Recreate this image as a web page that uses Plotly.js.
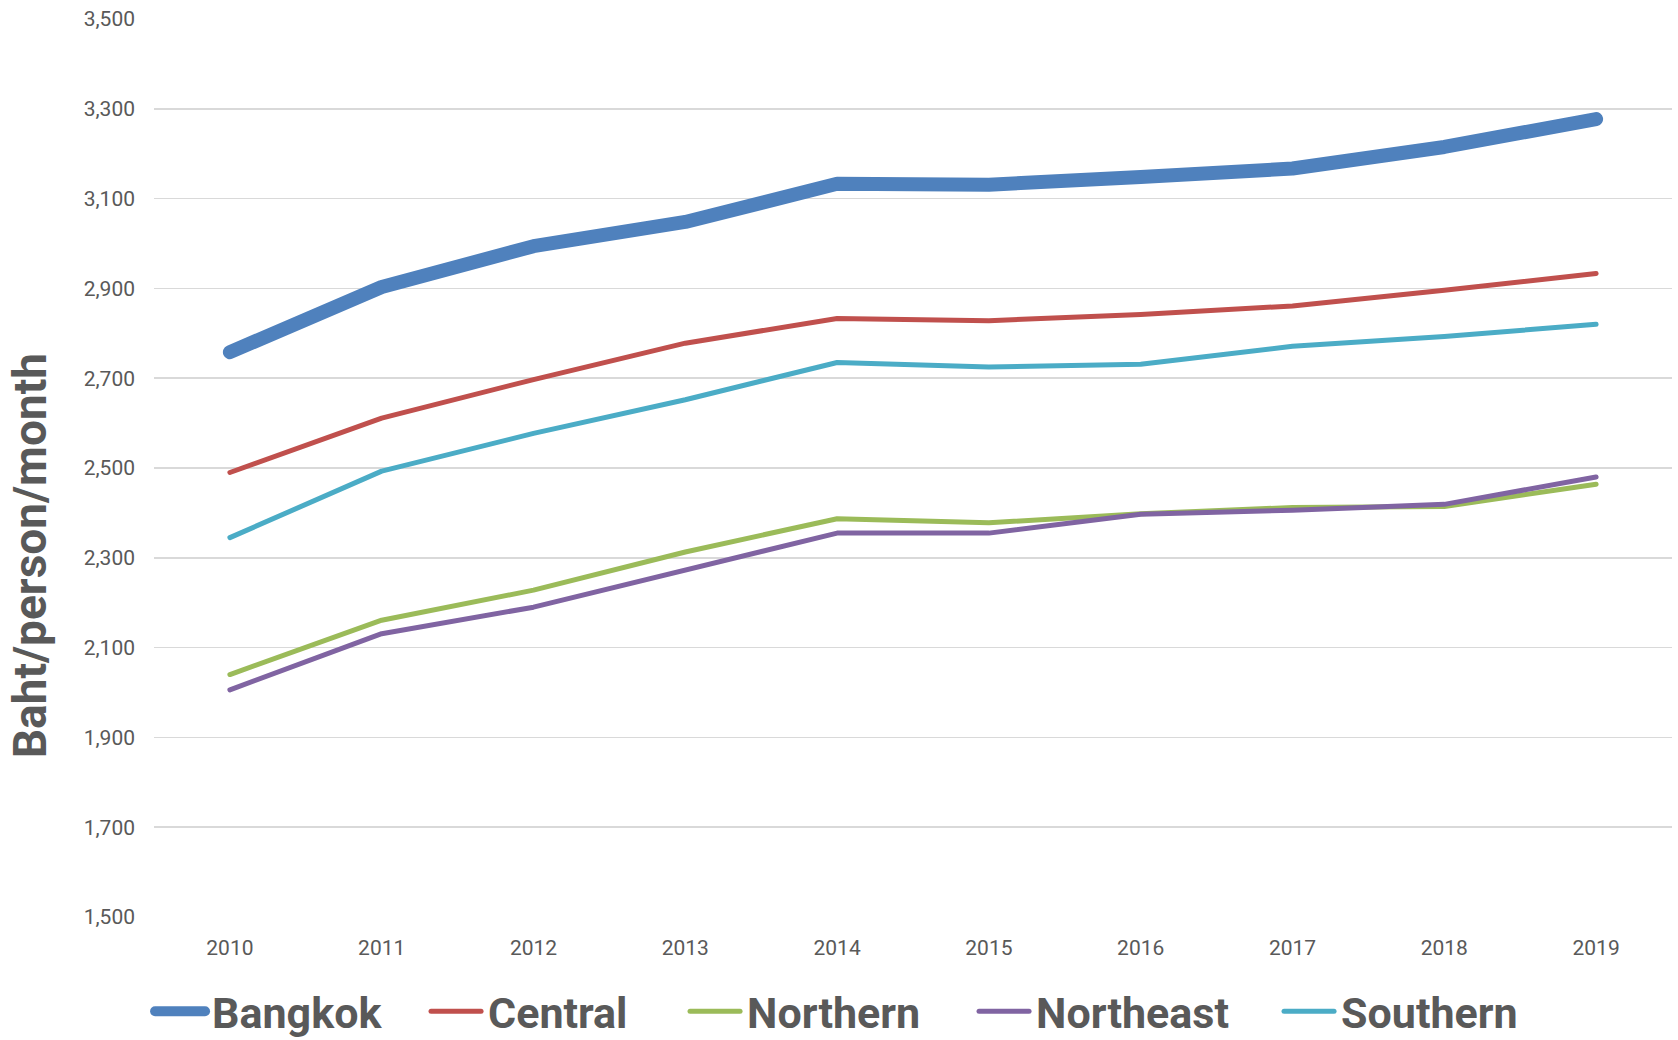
<!DOCTYPE html>
<html>
<head>
<meta charset="utf-8">
<script src="https://cdn.plot.ly/plotly-3.0.1.min.js"></script>
<style>
  html, body { margin: 0; padding: 0; background: #ffffff; }
  #chart { width: 1678px; height: 1040px; }
  .scatterlayer path.js-line, .legend path.js-line { stroke-linecap: round !important; stroke-linejoin: round !important; }
</style>
</head>
<body>
<div id="chart"></div>
<script>
// ---- data ----
const years = ['2010','2011','2012','2013','2014','2015','2016','2017','2018','2019'];
const seriesNames = ['Bangkok','Central','Northern','Northeast','Southern'];
const bangkok   = [2758, 2903, 2994, 3048, 3133, 3131, 3148, 3167, 3215, 3277];
const central   = [2490, 2611, 2697, 2778, 2833, 2828, 2842, 2861, 2896, 2933];
const northern  = [2040, 2161, 2228, 2313, 2387, 2378, 2398, 2412, 2414, 2464];
const northeast = [2006, 2131, 2190, 2272, 2355, 2355, 2397, 2406, 2419, 2480];
const southern  = [2345, 2493, 2577, 2652, 2735, 2725, 2731, 2771, 2793, 2820];
const yTitle = 'Baht/person/month';

// ---- styles ----
const seriesValues = [bangkok, central, northern, northeast, southern];
const colors = ['#4F81BD', '#C0504D', '#9BBB59', '#8064A2', '#4BACC6'];
const widths = [14, 5, 5, 5, 5];
const legendWidths = [209, 192, 222, 238, 190];

const traces = seriesNames.map((name, i) => ({
  type: 'scatter',
  mode: 'lines',
  name: name,
  x: years,
  y: seriesValues[i],
  line: { color: colors[i], width: widths[i], shape: 'linear' },
  legendwidth: legendWidths[i],
  hoverinfo: 'x+y+name'
}));

const textColor = '#595959';
const gridColor = '#D9D9D9';

const layout = {
  width: 1678,
  height: 1040,
  paper_bgcolor: '#ffffff',
  plot_bgcolor: '#ffffff',
  margin: { l: 154, r: 6, t: 19, b: 123, pad: 0, autoexpand: false },
  font: { family: 'Roboto, sans-serif', color: textColor },
  showlegend: true,
  legend: {
    orientation: 'h',
    x: -0.0026,
    xanchor: 'left',
    y: -0.105,
    yanchor: 'middle',
    itemwidth: 52,
    font: { family: 'Roboto, sans-serif', size: 43, weight: 'bold', color: textColor },
    bgcolor: 'rgba(0,0,0,0)',
    borderwidth: 0
  },
  xaxis: {
    type: 'category',
    range: [-0.5, 9.5],
    showgrid: false,
    zeroline: false,
    showline: false,
    ticks: '',
    tickfont: { family: 'Roboto, sans-serif', size: 21, color: textColor },
    ticklabelstandoff: 16,
    automargin: false,
    fixedrange: true
  },
  yaxis: {
    range: [1500, 3500],
    tick0: 1500,
    dtick: 200,
    tickformat: ',d',
    showgrid: true,
    gridcolor: gridColor,
    gridwidth: 1.5,
    zeroline: false,
    showline: false,
    ticks: '',
    tickfont: { family: 'Roboto, sans-serif', size: 21, color: textColor },
    ticklabelstandoff: 18,
    automargin: false,
    fixedrange: true
  },
  annotations: [{
    text: yTitle,
    xref: 'paper', yref: 'paper',
    x: -0.0817, y: 0.4028,
    xanchor: 'center', yanchor: 'middle',
    textangle: -90,
    showarrow: false,
    font: { family: 'Roboto, sans-serif', size: 46, weight: 'bold', color: textColor }
  }]
};

Plotly.newPlot('chart', traces, layout, { displayModeBar: false, staticPlot: true }).then(gd => {
  gd.querySelectorAll('.legend path.js-line').forEach(p => p.setAttribute('d', 'M5,0h50'));
});
</script>
</body>
</html>
